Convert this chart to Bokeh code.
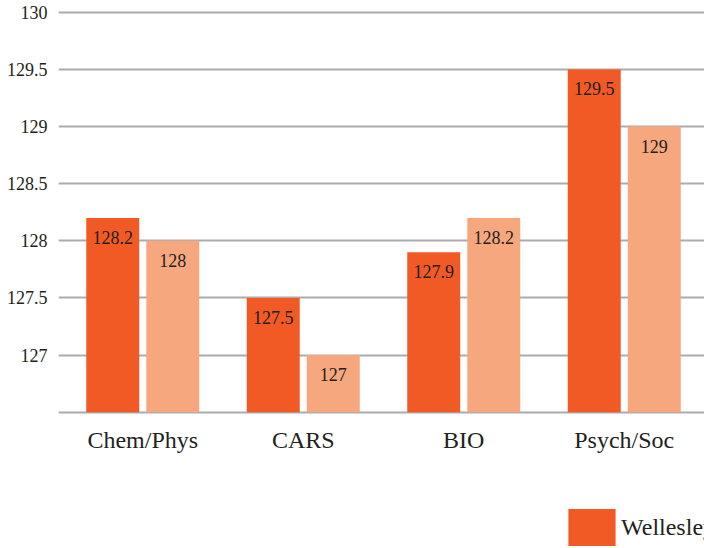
import numpy as np
from bokeh.plotting import figure
from bokeh.models import Range1d, FixedTicker, Legend, LegendItem
from bokeh.core.properties import value
from bokeh.embed import file_html
from bokeh.resources import INLINE

# ---- data ----
categories = ["Chem/Phys", "CARS", "BIO", "Psych/Soc"]
wellesley = [128.2, 127.5, 127.9, 129.5]
comparison = [128.0, 127.0, 128.2, 129.0]
y_ticks = [127, 127.5, 128, 128.5, 129, 129.5, 130]
baseline = 126.5
grid_values = [baseline] + y_ticks
legend_label = "Wellesley"

# ---- styles ----
DARK = "#F15A24"
LIGHT = "#F7A77D"
TEXT = "#231F20"
GRID = "#ABABAE"
FONT = "Liberation Serif"

xc = np.arange(len(categories)) + 0.5
bar_w = 0.33
offset = 0.187

p = figure(width=704, height=548,
           x_range=Range1d(-0.025, 4.0),
           y_range=Range1d(125.307, 130.103),
           output_backend="svg", toolbar_location=None,
           min_border_left=58, min_border_right=0,
           min_border_top=0, min_border_bottom=0)
p.outline_line_color = None
p.background_fill_color = "white"
p.border_fill_color = "white"

r1 = p.vbar(x=xc - offset, top=wellesley, bottom=baseline, width=bar_w,
            fill_color=DARK, line_color=None)
r2 = p.vbar(x=xc + offset, top=comparison, bottom=baseline, width=bar_w,
            fill_color=LIGHT, line_color=None)

for xs, vals in ((xc - offset, wellesley), (xc + offset, comparison)):
    p.text(x=xs, y=vals, text=[f"{v:g}" for v in vals],
           text_align="center", text_baseline="top", y_offset=13,
           text_font=value(FONT), text_font_size="18px", text_color=TEXT)

# axes
p.xaxis.fixed_location = baseline
p.xaxis.ticker = FixedTicker(ticks=list(xc))
p.xaxis.major_label_overrides = {float(v): c for v, c in zip(xc, categories)}
p.xaxis.axis_line_color = None
p.xaxis.major_tick_line_color = None
p.xaxis.minor_tick_line_color = None
p.xaxis.major_tick_out = 0
p.xaxis.major_label_standoff = 15
p.xaxis.major_label_text_font = FONT
p.xaxis.major_label_text_font_size = "24px"
p.xaxis.major_label_text_color = TEXT

p.yaxis.ticker = FixedTicker(ticks=y_ticks)
p.yaxis.major_label_overrides = {float(v): f"{v:g}" for v in y_ticks}
p.yaxis.axis_line_color = None
p.yaxis.major_tick_line_color = None
p.yaxis.minor_tick_line_color = None
p.yaxis.major_tick_out = 0
p.yaxis.major_label_standoff = 11
p.yaxis.major_label_text_font = FONT
p.yaxis.major_label_text_font_size = "18px"
p.yaxis.major_label_text_color = TEXT

p.xgrid.visible = False
p.ygrid.ticker = FixedTicker(ticks=grid_values)
p.ygrid.grid_line_color = GRID
p.ygrid.grid_line_width = 2

legend = Legend(items=[LegendItem(label=legend_label, renderers=[r1])],
                location=(504, -2), orientation="horizontal",
                glyph_width=59, glyph_height=46, label_height=46,
                label_standoff=0, padding=0, margin=0, spacing=0,
                border_line_color=None, background_fill_alpha=0,
                label_text_font=FONT, label_text_font_size="24px",
                label_text_color=TEXT)
p.add_layout(legend, "center")

open("out.html", "w").write(file_html(p, INLINE))
